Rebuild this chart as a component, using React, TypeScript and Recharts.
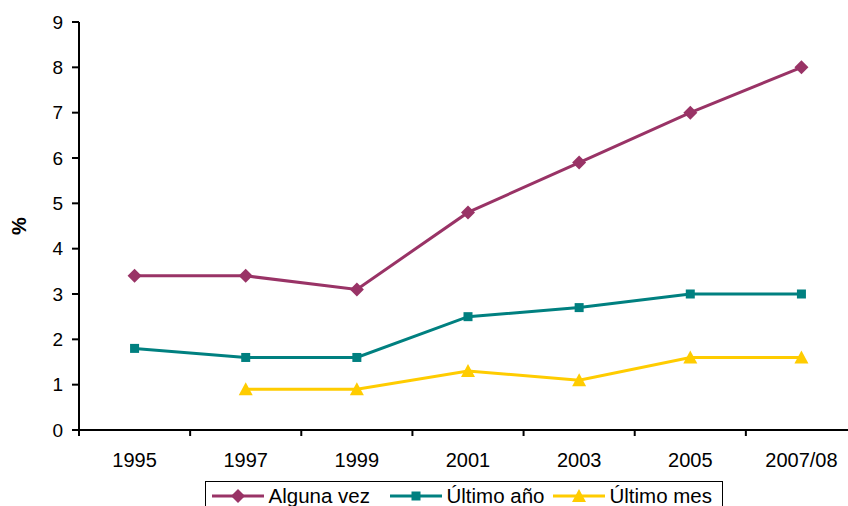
import React from "react"
import { LineChart, Line, XAxis, YAxis, Label } from "recharts"

const categories = ["1995", "1997", "1999", "2001", "2003", "2005", "2007/08"]
const algunaVez = [3.4, 3.4, 3.1, 4.8, 5.9, 7.0, 8.0]
const ultimoAno = [1.8, 1.6, 1.6, 2.5, 2.7, 3.0, 3.0]
const ultimoMes = [null, 0.9, 0.9, 1.3, 1.1, 1.6, 1.6]
const yTicks = [0, 1, 2, 3, 4, 5, 6, 7, 8, 9]

const FONT = "'Liberation Sans', Arial, sans-serif"
const WIDTH = 880
const HEIGHT = 506
const MARGIN = { top: 22, right: 23, left: 0, bottom: 0 }
const Y_WIDTH = 79
const STEP = (WIDTH - MARGIN.left - MARGIN.right - Y_WIDTH) / categories.length

const data = categories.map((label, i) => ({
    idx: i,
    label,
    algunaVez: algunaVez[i],
    ultimoAno: ultimoAno[i],
    ultimoMes: ultimoMes[i],
}))

// tick marks sit between categories, like the Excel original
const boundaries = [...categories.map((_, i) => i - 0.5), categories.length - 0.5]

const Diamond = ({ cx, cy, fill }: any) =>
    cy == null ? null : (
        <path d={`M${cx},${cy - 7} L${cx + 7},${cy} L${cx},${cy + 7} L${cx - 7},${cy} Z`} fill={fill} />
    )

const Square = ({ cx, cy, fill }: any) =>
    cy == null ? null : <rect x={cx - 4.5} y={cy - 4.5} width={9} height={9} fill={fill} />

const Triangle = ({ cx, cy, fill }: any) =>
    cy == null ? null : (
        <path d={`M${cx},${cy - 7} L${cx + 7},${cy + 6} L${cx - 7},${cy + 6} Z`} fill={fill} />
    )

const series = [
    { key: "algunaVez", name: "Alguna vez", color: "#993366", Marker: Diamond, width: 178 },
    { key: "ultimoAno", name: "Último año", color: "#008080", Marker: Square, width: 163 },
    { key: "ultimoMes", name: "Último mes", color: "#FFCC00", Marker: Triangle, width: 160 },
]

const XTick = ({ x, y, payload }: any) => {
    const i = Math.round(payload.value + 0.5)
    if (i >= categories.length) return <g />
    return (
        <text x={x + STEP / 2} y={y} dy="0.71em" textAnchor="middle" fontSize={20} fill="#000" fontFamily={FONT}>
            {categories[i]}
        </text>
    )
}

function LegendBox() {
    return (
        <div
            style={{
                position: "absolute",
                left: 205,
                top: 481,
                width: 518,
                height: 30,
                border: "1.5px solid #000",
                display: "flex",
                alignItems: "center",
                fontFamily: FONT,
                fontSize: 20.5,
                background: "#fff",
                boxSizing: "border-box",
                paddingLeft: 5.5,
            }}
        >
            {series.map((s) => (
                <div key={s.key} style={{ display: "flex", alignItems: "center", width: s.width, flex: "none" }}>
                    <svg width={52} height={16}>
                        <line x1={0} y1={8} x2={52} y2={8} stroke={s.color} strokeWidth={3} />
                        <s.Marker cx={26} cy={8} fill={s.color} />
                    </svg>
                    <span style={{ marginLeft: 5, whiteSpace: "nowrap" }}>{s.name}</span>
                </div>
            ))}
        </div>
    )
}

export default function App() {
    return (
        <div style={{ position: "absolute", left: 0, top: 0, width: 848, height: HEIGHT, overflow: "hidden", background: "#fff" }}>
            <LineChart width={WIDTH} height={HEIGHT} data={data} margin={MARGIN} style={{ fontFamily: FONT }}>
                <XAxis
                    dataKey="idx"
                    type="number"
                    domain={[-0.5, categories.length - 0.5]}
                    ticks={boundaries}
                    interval={0}
                    height={76}
                    tickSize={6}
                    tickMargin={17}
                    axisLine={{ stroke: "#000", strokeWidth: 2 }}
                    tickLine={{ stroke: "#000", strokeWidth: 2 }}
                    tick={<XTick />}
                />
                <YAxis
                    domain={[0, 9]}
                    ticks={yTicks}
                    interval={0}
                    width={Y_WIDTH}
                    tickSize={7}
                    tickMargin={9}
                    axisLine={{ stroke: "#000", strokeWidth: 2 }}
                    tickLine={{ stroke: "#000", strokeWidth: 2 }}
                    tick={{ fill: "#000", fontSize: 19, fontFamily: FONT }}
                >
                    <Label
                        value="%"
                        angle={-90}
                        position="center"
                        dx={-21}
                        style={{ fill: "#000", fontSize: 20, fontWeight: "bold", fontFamily: FONT }}
                    />
                </YAxis>
                {series.map((s) => (
                    <Line
                        key={s.key}
                        dataKey={s.key}
                        name={s.name}
                        type="linear"
                        stroke={s.color}
                        strokeWidth={3}
                        dot={(p: any) => <s.Marker key={`${s.key}-${p.index}`} cx={p.cx} cy={p.value == null ? null : p.cy} fill={s.color} />}
                        activeDot={false}
                        isAnimationActive={false}
                    />
                ))}
            </LineChart>
            <LegendBox />
        </div>
    )
}
